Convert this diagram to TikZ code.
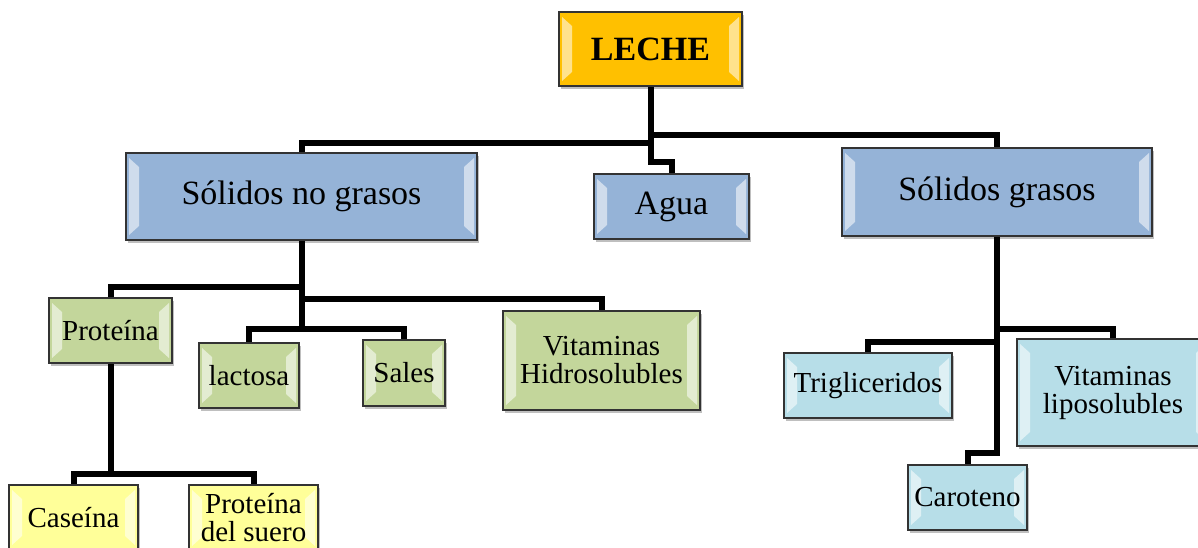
\documentclass[tikz,border=0pt]{standalone}
\usepackage{fontspec}
\setmainfont{Liberation Serif}
\usetikzlibrary{shadows}
\pgfdeclarelayer{bg}
\pgfsetlayers{bg,main}
\definecolor{cgold}{HTML}{FFC000}
\definecolor{cblue}{HTML}{95B3D7}
\definecolor{cgreen}{HTML}{C3D69B}
\definecolor{clblue}{HTML}{B7DEE8}
\definecolor{cyellow}{HTML}{FFFF99}
\definecolor{cedge}{HTML}{333333}
\tikzset{
  bevel/.style={path picture={
    \fill[white,opacity=0.55]
      ([xshift=3pt,yshift=-5pt]path picture bounding box.north west) --
      ([xshift=13pt,yshift=-14pt]path picture bounding box.north west) --
      ([xshift=13pt,yshift=14pt]path picture bounding box.south west) --
      ([xshift=3pt,yshift=5pt]path picture bounding box.south west) -- cycle;
    \fill[white,opacity=0.55]
      ([xshift=-3pt,yshift=-5pt]path picture bounding box.north east) --
      ([xshift=-13pt,yshift=-14pt]path picture bounding box.north east) --
      ([xshift=-13pt,yshift=14pt]path picture bounding box.south east) --
      ([xshift=-3pt,yshift=5pt]path picture bounding box.south east) -- cycle;
  }},
  box/.style={draw=cedge, line width=1.6pt, rectangle, inner sep=0pt, align=center,
    bevel, drop shadow={shadow xshift=2pt, shadow yshift=-3pt, fill=black, opacity=0.25},
    text=black},
  big/.style={box, font=\fontsize{34}{36}\selectfont},
  small/.style={box, font=\fontsize{29}{28}\selectfont},
  conn/.style={line width=6pt, black, line join=miter},
}
\begin{document}
\begin{tikzpicture}[x=1pt,y=-1pt]
\useasboundingbox (0,0) rectangle (1198,547);
\clip (0,0) rectangle (1198,547);
% nodes
\node[big, fill=cgold, minimum width=183pt, minimum height=74pt, font=\fontsize{34}{36}\selectfont\bfseries] (leche) at (650.5,49) {LECHE};
\node[big, fill=cblue, minimum width=351pt, minimum height=87pt] (sng) at (301.5,196.5) {Sólidos no grasos};
\node[big, fill=cblue, minimum width=155pt, minimum height=65pt] (agua) at (671.5,206.5) {Agua};
\node[big, fill=cblue, minimum width=310pt, minimum height=88pt] (sg) at (997,192) {Sólidos grasos};
\node[small, fill=cgreen, minimum width=123pt, minimum height=65pt] (prot) at (110.5,330.5) {Proteína};
\node[small, fill=cgreen, minimum width=100pt, minimum height=65pt] (lact) at (249,375.5) {lactosa};
\node[small, fill=cgreen, minimum width=82pt, minimum height=66pt] (sales) at (404,373) {Sales};
\node[small, fill=cgreen, minimum width=197pt, minimum height=99pt] (vith) at (601.5,360.5) {Vitaminas\\Hidrosolubles};
\node[small, fill=cyellow, minimum width=129pt, minimum height=65pt] (cas) at (73.5,517.5) {Caseína};
\node[small, fill=cyellow, minimum width=129pt, minimum height=66pt] (pds) at (253.5,518) {Proteína\\del suero};
\node[small, fill=clblue, minimum width=168pt, minimum height=65pt] (trig) at (868,385.5) {Trigliceridos};
\node[small, fill=clblue, minimum width=192pt, minimum height=107pt] (vitl) at (1113,392.5) {Vitaminas\\liposolubles};
\node[small, fill=clblue, minimum width=119pt, minimum height=65pt] (car) at (967.5,497.5) {Caroteno};
% connectors
\begin{pgfonlayer}{bg}
\fill[white] (0,0) rectangle (1198,547);
\draw[conn] (leche.south) -- (650.5,143) -| (sng.north);
\draw[conn] (leche.south) -- (650.5,135) -| (sg.north);
\draw[conn] (leche.south) -- (650.5,162) -| (agua.north);
\draw[conn] (sng.south) -- (301.5,287) -| (prot.north);
\draw[conn] (sng.south) -- (301.5,299) -| (vith.north);
\draw[conn] (sng.south) -- (301.5,329) -| (sales.north);
\draw[conn] (sng.south) -- (301.5,329) -| (lact.north);
\draw[conn] (prot.south) -- (110.5,474) -| (cas.north);
\draw[conn] (prot.south) -- (110.5,474) -| (pds.north);
\draw[conn] (sg.south) -- (997,329) -| (vitl.north);
\draw[conn] (sg.south) -- (997,342) -| (trig.north);
\draw[conn] (sg.south) -- (997,453) -| (car.north);
\end{pgfonlayer}
\end{tikzpicture}
\end{document}
